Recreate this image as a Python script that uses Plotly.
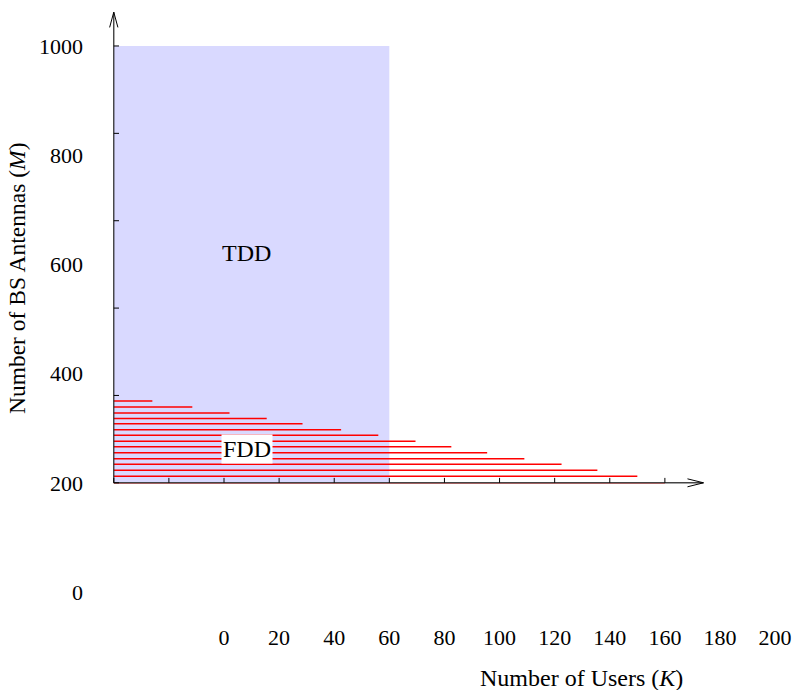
import plotly.graph_objects as go

# ---- data ----
x_tick_labels = [0, 20, 40, 60, 80, 100, 120, 140, 160, 180, 200]
y_tick_labels = [0, 200, 400, 600, 800, 1000]
axis_x_ticks = [-40, -20, 0, 20, 40, 60, 80, 100, 120, 140, 160]
axis_y_ticks = [200, 360, 520, 680, 840, 1000]

tdd_x = [-40, 60]
tdd_y = [200, 1000]

fdd_levels = [200, 212, 223, 234, 244, 255, 266, 276, 287, 297, 308, 318, 328, 339, 350]
fdd_ends = [160, 150, 135.5, 122.5, 109, 95.5, 82.5, 69.5, 56, 42.5, 28.5, 15.5, 2, -11.5, -26]
fdd_start = -40

origin = (-40, 200)
x_arrow_tip = 174
y_arrow_tip = 1062

FONT = "Liberation Serif"

fig = go.Figure()

# FDD hatching lines
hx, hy = [], []
for lvl, end in zip(fdd_levels, fdd_ends):
    hx += [fdd_start, end, None]
    hy += [lvl, lvl, None]
fig.add_trace(go.Scatter(x=hx, y=hy, mode="lines",
                         line=dict(color="red", width=1.5),
                         hoverinfo="skip", showlegend=False))

shapes = []
# TDD region
shapes.append(dict(type="rect", xref="x", yref="y", layer="below",
                   x0=tdd_x[0], x1=tdd_x[1], y0=tdd_y[0], y1=tdd_y[1],
                   fillcolor="#d9d9ff", line=dict(width=0)))
# axis lines
shapes.append(dict(type="line", xref="x", yref="y", x0=origin[0], y0=origin[1],
                   x1=x_arrow_tip, y1=origin[1], line=dict(color="#444", width=1.4)))
shapes.append(dict(type="line", xref="x", yref="y", x0=origin[0], y0=origin[1],
                   x1=origin[0], y1=y_arrow_tip, line=dict(color="#222", width=1.2)))
# arrowheads (open V)
xa_len, xa_half = 5.8, 7.3
shapes.append(dict(type="path", xref="x", yref="y",
                   path=f"M {x_arrow_tip-xa_len},{origin[1]+xa_half} L {x_arrow_tip},{origin[1]} L {x_arrow_tip-xa_len},{origin[1]-xa_half}",
                   line=dict(color="black", width=1)))
ya_len, ya_half = 28, 1.5
shapes.append(dict(type="path", xref="x", yref="y",
                   path=f"M {origin[0]-ya_half},{y_arrow_tip-ya_len} L {origin[0]},{y_arrow_tip} L {origin[0]+ya_half},{y_arrow_tip-ya_len}",
                   line=dict(color="black", width=1)))
# ticks
for xt in axis_x_ticks:
    shapes.append(dict(type="line", xref="x", yref="y", x0=xt, x1=xt,
                       y0=origin[1], y1=origin[1] + 9, line=dict(color="black", width=1)))
for yt in axis_y_ticks:
    shapes.append(dict(type="line", xref="x", yref="y", x0=origin[0], x1=origin[0] + 1.9,
                       y0=yt, y1=yt, line=dict(color="black", width=1)))

annotations = [
    dict(x=8.3, y=621, xref="x", yref="y", text="TDD", showarrow=False,
         font=dict(family=FONT, size=24, color="black")),
    dict(x=8.3, y=262, xref="x", yref="y", text="FDD", showarrow=False,
         bgcolor="white", borderpad=1,
         font=dict(family=FONT, size=24, color="black")),
    dict(x=0.7067, y=-0.0915, xref="paper", yref="paper", xanchor="center", yanchor="middle",
         text="Number of Users (<i>K</i>)", showarrow=False,
         font=dict(family=FONT, size=24, color="black")),
    dict(x=-0.1217, y=0.562, xref="paper", yref="paper", xanchor="center", yanchor="middle",
         text="Number of BS Antennas (<i>M</i>)", textangle=-90, showarrow=False,
         font=dict(family=FONT, size=23.5, color="black")),
]

# full-window figure; the page's default body margin is removed below
fig.update_layout(
    width=792, height=690,
    margin=dict(l=100, r=10, t=10, b=68, autoexpand=False),
    paper_bgcolor="white", plot_bgcolor="white",
    shapes=shapes, annotations=annotations,
    showlegend=False,
    font=dict(family=FONT, size=22, color="black"),
)
fig.update_xaxes(range=[-45.0, 202.5], tickvals=x_tick_labels,
                 ticktext=[str(v) for v in x_tick_labels], automargin=False,
                 showgrid=False, zeroline=False, showline=False, ticks="",
                 ticklabelstandoff=0, tickfont=dict(family=FONT, size=22, color="black"))
fig.update_yaxes(range=[-54.9, 1065.9], tickvals=y_tick_labels,
                 ticktext=[str(v) for v in y_tick_labels], automargin=False,
                 showgrid=False, zeroline=False, showline=False, ticks="",
                 ticklabelstandoff=16, tickfont=dict(family=FONT, size=22, color="black"))

fig.write_html("out.html", config={"displayModeBar": False},
               post_script="document.body.style.margin='0';"
                           "document.body.style.overflow='hidden';")
